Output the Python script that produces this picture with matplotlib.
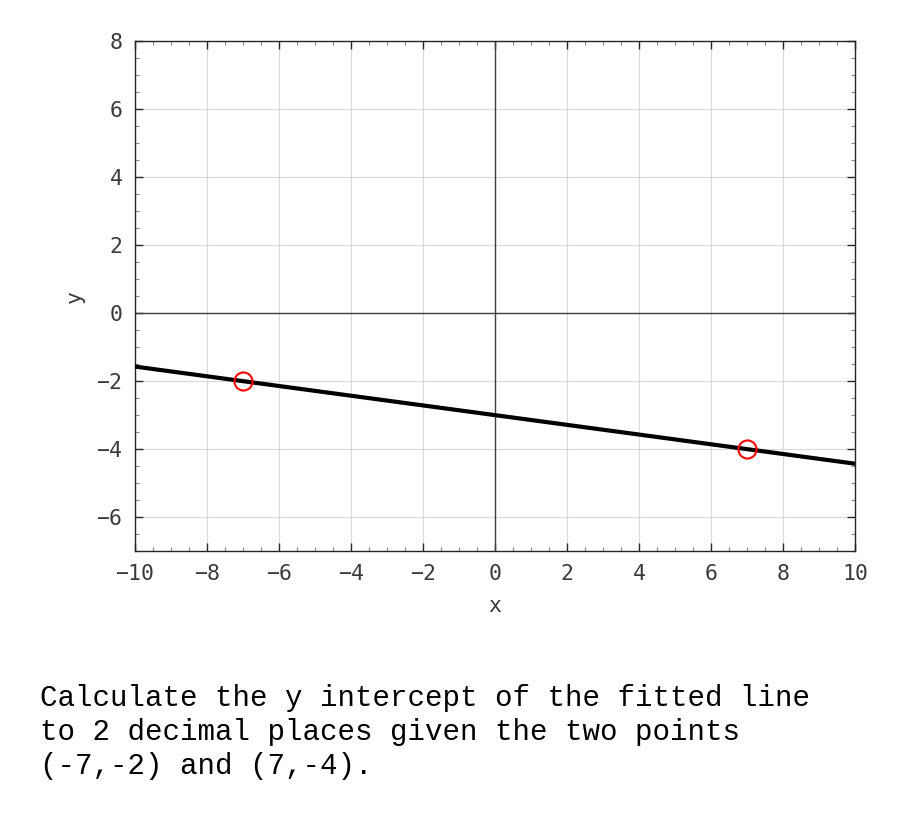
import matplotlib
matplotlib.use("Agg")
import matplotlib.pyplot as plt
import numpy as np
from matplotlib.ticker import MultipleLocator

point_x = [-7, 7]
point_y = [-2, -4]
x_range = [-10, 10]
y_range = [-7, 8]
question = ("Calculate the y intercept of the fitted line\n"
            "to 2 decimal places given the two points\n"
            "(-7,-2) and (7,-4).")

slope = (point_y[1] - point_y[0]) / (point_x[1] - point_x[0])
intercept = point_y[0] - slope * point_x[0]

fig = plt.figure(figsize=(9, 8.25), dpi=100)
ax = fig.add_axes([0.15, 0.332, 0.80, 0.618])
mono = "DejaVu Sans Mono"

ax.set_xlim(x_range)
ax.set_ylim(y_range)
ax.xaxis.set_major_locator(MultipleLocator(2))
ax.yaxis.set_major_locator(MultipleLocator(2))
ax.xaxis.set_minor_locator(MultipleLocator(0.5))
ax.yaxis.set_minor_locator(MultipleLocator(0.5))
ax.grid(True, which="major", color="#d9d9d9", linewidth=0.8)
ax.set_axisbelow(True)
ax.tick_params(which="both", direction="in", top=True, right=True, color="#262626")
ax.tick_params(which="major", length=6, width=1)
ax.tick_params(which="minor", length=3, width=0.8, color="#888888")
ax.tick_params(labelsize=15.5, labelcolor="#3a3a3a", pad=9)
for lab in ax.get_xticklabels() + ax.get_yticklabels():
    lab.set_family(mono)
for s in ax.spines.values():
    s.set_color("#262626")
    s.set_linewidth(1)

ax.axhline(0, color="#404040", linewidth=1, zorder=1.5)
ax.axvline(0, color="#404040", linewidth=1, zorder=1.5)

xs = np.array(x_range, dtype=float)
ax.plot(xs, slope * xs + intercept, color="black", linewidth=3, zorder=3)
ax.plot(point_x, point_y, linestyle="none", marker="o", markersize=13,
        markerfacecolor="none", markeredgecolor="red", markeredgewidth=1.5, zorder=4)

ax.set_xlabel("x", fontsize=15.5, family=mono, color="#3a3a3a", labelpad=9)
ax.set_ylabel("y", fontsize=15.5, family=mono, color="#3a3a3a", labelpad=8)

fig.text(40 / 900, 1 - 684 / 825, question, family="Liberation Mono", fontsize=21,
         va="top", ha="left", linespacing=1.28, color="black")

fig.savefig("out.png", dpi=100)
